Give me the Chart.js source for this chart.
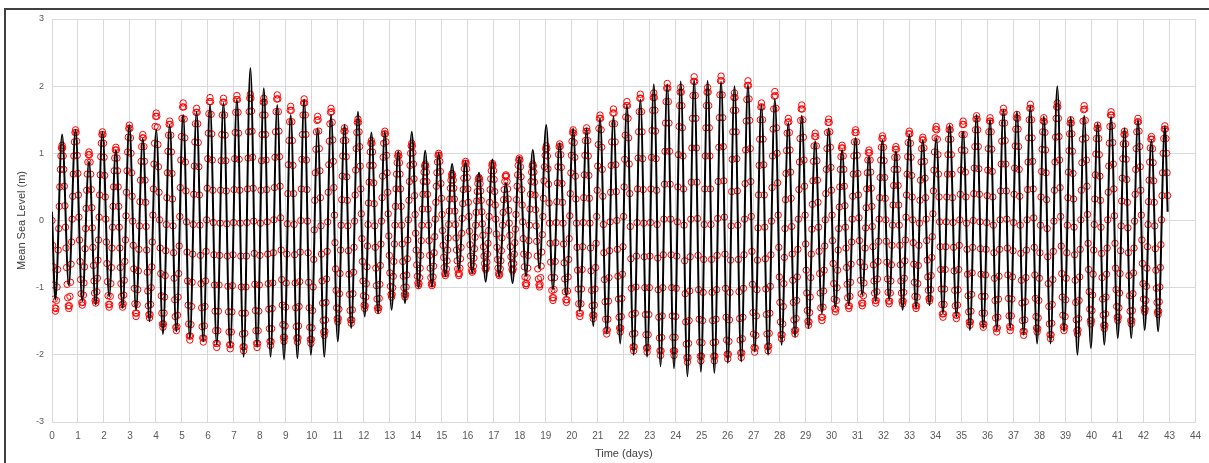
<!DOCTYPE html>
<html>
<head>
<meta charset="utf-8">
<script src="https://cdn.jsdelivr.net/npm/chart.js@4.4.1/dist/chart.umd.min.js"></script>
<style>
  html, body { margin: 0; padding: 0; background: #fff; }
  #wrap { position: relative; width: 1209px; height: 463px; overflow: hidden; }
  #frame { position: absolute; left: 4px; top: 8px; width: 1300px; height: 600px;
           border-top: 2px solid #404040; border-left: 2px solid #404040; }
  #tide-chart { position: absolute; left: 0; top: 0; }
</style>
</head>
<body>
<div id="wrap">
  <div id="frame"></div>
  <canvas id="tide-chart" width="1209" height="463"></canvas>
</div>
<script>
// sample interval of the predicted series, in days (~31 min)
const STEP = 0.0215625;

// predicted level (m), red circles, one value per sample
const predLevel = [
  0.00,-0.37,-0.69,-0.96,-1.17,-1.30,
  -1.35,-1.31,-1.19,-0.99,-0.73,-0.44,-0.12,0.21,0.50,0.76,0.96,1.08,
  1.12,1.08,0.96,0.76,0.51,0.22,-0.10,-0.41,-0.70,-0.95,-1.15,-1.27,
  -1.31,-1.27,-1.13,-0.92,-0.65,-0.32,0.02,0.36,0.69,0.96,1.17,1.31,
  1.35,1.31,1.18,0.97,0.70,0.38,0.05,-0.29,-0.61,-0.88,-1.09,-1.22,
  -1.26,-1.22,-1.11,-0.93,-0.69,-0.42,-0.12,0.18,0.45,0.69,0.87,0.98,
  1.02,0.98,0.87,0.69,0.46,0.19,-0.11,-0.40,-0.67,-0.90,-1.08,-1.19,
  -1.23,-1.19,-1.06,-0.86,-0.59,-0.29,0.05,0.38,0.68,0.95,1.15,1.28,
  1.32,1.28,1.15,0.94,0.67,0.35,0.02,-0.32,-0.64,-0.91,-1.12,-1.25,
  -1.29,-1.25,-1.13,-0.94,-0.70,-0.41,-0.10,0.21,0.50,0.74,0.93,1.05,
  1.09,1.05,0.93,0.74,0.50,0.21,-0.10,-0.41,-0.70,-0.94,-1.13,-1.25,
  -1.29,-1.24,-1.11,-0.89,-0.61,-0.29,0.07,0.42,0.74,1.02,1.24,1.37,
  1.42,1.37,1.23,1.00,0.71,0.36,-0.01,-0.37,-0.72,-1.01,-1.24,-1.38,
  -1.43,-1.38,-1.25,-1.03,-0.75,-0.43,-0.08,0.28,0.60,0.88,1.10,1.23,
  1.28,1.23,1.10,0.88,0.60,0.27,-0.09,-0.44,-0.77,-1.05,-1.27,-1.40,
  -1.45,-1.40,-1.25,-1.00,-0.69,-0.32,0.08,0.47,0.84,1.15,1.40,1.55,
  1.60,1.55,1.39,1.13,0.80,0.42,0.01,-0.41,-0.79,-1.12,-1.38,-1.54,
  -1.59,-1.54,-1.38,-1.14,-0.82,-0.45,-0.06,0.34,0.71,1.03,1.27,1.43,
  1.48,1.43,1.27,1.02,0.70,0.32,-0.08,-0.48,-0.86,-1.18,-1.43,-1.59,
  -1.64,-1.58,-1.41,-1.14,-0.79,-0.38,0.06,0.49,0.90,1.25,1.52,1.69,
  1.75,1.69,1.51,1.23,0.87,0.44,-0.02,-0.47,-0.90,-1.26,-1.54,-1.72,
  -1.78,-1.72,-1.55,-1.28,-0.92,-0.50,-0.06,0.39,0.81,1.17,1.44,1.61,
  1.67,1.61,1.44,1.16,0.80,0.38,-0.07,-0.52,-0.94,-1.30,-1.58,-1.75,
  -1.81,-1.75,-1.57,-1.28,-0.90,-0.46,0.01,0.48,0.92,1.30,1.59,1.77,
  1.83,1.77,1.58,1.29,0.90,0.45,-0.03,-0.51,-0.96,-1.35,-1.64,-1.83,
  -1.89,-1.83,-1.64,-1.35,-0.96,-0.52,-0.04,0.45,0.89,1.28,1.57,1.76,
  1.82,1.76,1.57,1.27,0.89,0.44,-0.05,-0.53,-0.98,-1.36,-1.66,-1.85,
  -1.91,-1.85,-1.66,-1.36,-0.97,-0.51,-0.03,0.46,0.92,1.31,1.61,1.80,
  1.86,1.80,1.61,1.30,0.91,0.45,-0.04,-0.53,-0.99,-1.38,-1.69,-1.88,
  -1.94,-1.88,-1.68,-1.38,-0.99,-0.53,-0.03,0.47,0.93,1.32,1.62,1.82,
  1.88,1.82,1.63,1.33,0.94,0.48,-0.01,-0.49,-0.95,-1.34,-1.64,-1.83,
  -1.89,-1.83,-1.64,-1.35,-0.96,-0.52,-0.04,0.45,0.89,1.28,1.57,1.76,
  1.82,1.76,1.57,1.28,0.90,0.46,-0.02,-0.50,-0.94,-1.32,-1.61,-1.80,
  -1.86,-1.80,-1.61,-1.31,-0.93,-0.48,0.01,0.49,0.94,1.32,1.62,1.81,
  1.87,1.81,1.62,1.33,0.95,0.51,0.04,-0.44,-0.88,-1.26,-1.55,-1.74,
  -1.80,-1.74,-1.57,-1.29,-0.93,-0.50,-0.05,0.40,0.83,1.19,1.47,1.64,
  1.70,1.64,1.47,1.19,0.82,0.40,-0.06,-0.51,-0.93,-1.30,-1.58,-1.75,
  -1.81,-1.75,-1.57,-1.28,-0.91,-0.47,0.00,0.47,0.91,1.28,1.57,1.75,
  1.81,1.75,1.57,1.28,0.90,0.46,-0.01,-0.48,-0.92,-1.30,-1.59,-1.77,
  -1.83,-1.77,-1.60,-1.34,-0.99,-0.58,-0.14,0.30,0.71,1.06,1.32,1.49,
  1.55,1.50,1.33,1.07,0.74,0.34,-0.08,-0.50,-0.90,-1.23,-1.49,-1.66,
  -1.71,-1.65,-1.48,-1.22,-0.87,-0.46,-0.02,0.42,0.83,1.18,1.44,1.61,
  1.67,1.62,1.46,1.20,0.88,0.49,0.08,-0.33,-0.72,-1.04,-1.30,-1.46,
  -1.51,-1.46,-1.32,-1.09,-0.79,-0.44,-0.07,0.31,0.66,0.96,1.19,1.33,
  1.38,1.33,1.19,0.95,0.65,0.30,-0.08,-0.45,-0.80,-1.10,-1.34,-1.48,
  -1.53,-1.48,-1.33,-1.09,-0.77,-0.40,-0.01,0.38,0.75,1.07,1.31,1.46,
  1.51,1.46,1.32,1.10,0.81,0.47,0.10,-0.27,-0.61,-0.90,-1.12,-1.26,
  -1.31,-1.27,-1.14,-0.94,-0.69,-0.38,-0.06,0.26,0.57,0.82,1.02,1.15,
  1.19,1.15,1.02,0.82,0.56,0.25,-0.08,-0.40,-0.71,-0.97,-1.17,-1.30,
  -1.34,-1.30,-1.16,-0.95,-0.67,-0.35,-0.01,0.34,0.66,0.94,1.15,1.29,
  1.33,1.29,1.17,0.97,0.71,0.42,0.10,-0.23,-0.52,-0.78,-0.98,-1.10,
  -1.14,-1.10,-1.00,-0.83,-0.61,-0.35,-0.07,0.21,0.47,0.69,0.86,0.96,
  1.00,0.96,0.86,0.69,0.47,0.21,-0.07,-0.35,-0.61,-0.83,-1.00,-1.10,
  -1.14,-1.10,-0.99,-0.81,-0.57,-0.29,0.01,0.30,0.58,0.82,1.00,1.11,
  1.15,1.11,1.01,0.84,0.62,0.37,0.09,-0.19,-0.44,-0.66,-0.83,-0.93,
  -0.97,-0.94,-0.85,-0.71,-0.52,-0.30,-0.07,0.17,0.39,0.58,0.72,0.81,
  0.84,0.81,0.72,0.58,0.39,0.17,-0.07,-0.30,-0.52,-0.71,-0.85,-0.94,
  -0.97,-0.94,-0.84,-0.68,-0.48,-0.24,0.02,0.27,0.51,0.71,0.87,0.97,
  1.00,0.97,0.88,0.73,0.55,0.33,0.09,-0.15,-0.37,-0.55,-0.70,-0.79,
  -0.82,-0.79,-0.72,-0.60,-0.44,-0.26,-0.06,0.14,0.32,0.48,0.60,0.67,
  0.70,0.67,0.60,0.48,0.32,0.14,-0.06,-0.26,-0.44,-0.60,-0.72,-0.79,
  -0.82,-0.79,-0.71,-0.57,-0.40,-0.19,0.03,0.25,0.46,0.63,0.77,0.85,
  0.88,0.85,0.77,0.64,0.47,0.27,0.06,-0.16,-0.36,-0.53,-0.66,-0.74,
  -0.77,-0.75,-0.68,-0.56,-0.42,-0.25,-0.07,0.12,0.29,0.43,0.55,0.62,
  0.64,0.62,0.55,0.44,0.30,0.13,-0.05,-0.22,-0.39,-0.53,-0.64,-0.71,
  -0.73,-0.70,-0.62,-0.50,-0.34,-0.15,0.06,0.27,0.46,0.62,0.74,0.82,
  0.85,0.82,0.74,0.61,0.43,0.23,0.02,-0.20,-0.40,-0.58,-0.71,-0.79,
  -0.82,-0.80,-0.72,-0.60,-0.45,-0.26,-0.07,0.12,0.31,0.46,0.58,0.66,
  0.68,0.66,0.58,0.47,0.32,0.15,-0.04,-0.22,-0.39,-0.54,-0.65,-0.73,
  -0.75,-0.72,-0.64,-0.50,-0.33,-0.13,0.09,0.31,0.51,0.68,0.82,0.90,
  0.93,0.90,0.80,0.65,0.46,0.23,-0.02,-0.27,-0.50,-0.69,-0.84,-0.94,
  -0.97,-0.94,-0.85,-0.71,-0.52,-0.30,-0.07,0.17,0.39,0.58,0.72,0.81,
  0.84,0.81,0.72,0.57,0.38,0.16,-0.08,-0.31,-0.53,-0.72,-0.87,-0.96,
  -0.99,-0.95,-0.85,-0.68,-0.47,-0.21,0.06,0.33,0.59,0.80,0.97,1.07,
  1.11,1.07,0.96,0.77,0.54,0.26,-0.04,-0.34,-0.62,-0.85,-1.04,-1.15,
  -1.19,-1.15,-1.03,-0.85,-0.61,-0.33,-0.03,0.28,0.56,0.80,0.98,1.10,
  1.14,1.10,0.98,0.79,0.55,0.27,-0.04,-0.35,-0.63,-0.87,-1.06,-1.18,
  -1.22,-1.18,-1.05,-0.84,-0.58,-0.27,0.07,0.40,0.71,0.97,1.18,1.31,
  1.35,1.30,1.16,0.94,0.66,0.32,-0.04,-0.40,-0.74,-1.02,-1.24,-1.38,
  -1.43,-1.38,-1.24,-1.02,-0.73,-0.39,-0.03,0.34,0.68,0.97,1.19,1.33,
  1.38,1.33,1.19,0.96,0.67,0.33,-0.04,-0.41,-0.75,-1.04,-1.27,-1.41,
  -1.46,-1.41,-1.26,-1.02,-0.70,-0.34,0.06,0.45,0.81,1.13,1.37,1.52,
  1.57,1.52,1.35,1.09,0.76,0.36,-0.06,-0.48,-0.88,-1.21,-1.47,-1.64,
  -1.69,-1.63,-1.47,-1.20,-0.85,-0.45,-0.02,0.42,0.82,1.17,1.44,1.60,
  1.66,1.60,1.44,1.17,0.83,0.43,0.00,-0.43,-0.83,-1.17,-1.44,-1.60,
  -1.66,-1.60,-1.43,-1.16,-0.80,-0.39,0.06,0.50,0.91,1.27,1.54,1.71,
  1.77,1.71,1.52,1.23,0.84,0.40,-0.09,-0.57,-1.01,-1.40,-1.69,-1.88,
  -1.94,-1.88,-1.68,-1.38,-0.99,-0.53,-0.03,0.47,0.93,1.32,1.62,1.82,
  1.88,1.82,1.62,1.32,0.92,0.46,-0.04,-0.54,-1.00,-1.40,-1.70,-1.90,
  -1.96,-1.89,-1.70,-1.40,-1.00,-0.53,-0.03,0.47,0.94,1.34,1.64,1.83,
  1.90,1.83,1.64,1.33,0.92,0.45,-0.06,-0.56,-1.03,-1.44,-1.75,-1.94,
  -2.01,-1.94,-1.74,-1.42,-1.00,-0.51,0.02,0.54,1.03,1.45,1.77,1.97,
  2.04,1.97,1.77,1.45,1.03,0.54,0.02,-0.51,-1.00,-1.42,-1.74,-1.94,
  -2.01,-1.94,-1.74,-1.43,-1.01,-0.53,-0.02,0.50,0.98,1.40,1.71,1.91,
  1.98,1.91,1.71,1.38,0.96,0.47,-0.07,-0.60,-1.09,-1.51,-1.84,-2.04,
  -2.11,-2.04,-1.83,-1.49,-1.05,-0.54,0.02,0.57,1.08,1.52,1.86,2.07,
  2.14,2.07,1.86,1.52,1.08,0.57,0.03,-0.52,-1.03,-1.47,-1.81,-2.02,
  -2.09,-2.02,-1.82,-1.49,-1.07,-0.58,-0.06,0.47,0.96,1.38,1.71,1.91,
  1.98,1.91,1.71,1.38,0.96,0.47,-0.06,-0.58,-1.07,-1.49,-1.82,-2.02,
  -2.09,-2.02,-1.81,-1.47,-1.03,-0.52,0.03,0.58,1.09,1.53,1.87,2.08,
  2.15,2.08,1.87,1.53,1.10,0.59,0.05,-0.50,-1.01,-1.44,-1.78,-1.99,
  -2.06,-1.99,-1.80,-1.48,-1.07,-0.59,-0.08,0.43,0.91,1.32,1.64,1.83,
  1.90,1.83,1.64,1.32,0.92,0.44,-0.07,-0.58,-1.06,-1.46,-1.78,-1.97,
  -2.04,-1.97,-1.76,-1.44,-1.01,-0.51,0.02,0.55,1.05,1.48,1.80,2.01,
  2.08,2.01,1.81,1.49,1.07,0.58,0.06,-0.46,-0.95,-1.37,-1.69,-1.89,
  -1.96,-1.90,-1.71,-1.42,-1.03,-0.59,-0.11,0.38,0.82,1.21,1.50,1.69,
  1.75,1.69,1.50,1.21,0.83,0.38,-0.10,-0.57,-1.02,-1.40,-1.69,-1.88,
  -1.94,-1.87,-1.68,-1.38,-0.98,-0.51,-0.01,0.49,0.96,1.36,1.66,1.85,
  1.92,1.86,1.67,1.38,1.00,0.56,0.08,-0.40,-0.84,-1.22,-1.51,-1.70,
  -1.76,-1.70,-1.54,-1.28,-0.94,-0.55,-0.12,0.31,0.70,1.04,1.30,1.46,
  1.52,1.47,1.31,1.05,0.72,0.33,-0.09,-0.50,-0.89,-1.22,-1.48,-1.64,
  -1.69,-1.63,-1.46,-1.19,-0.84,-0.43,0.02,0.46,0.87,1.22,1.49,1.66,
  1.72,1.66,1.50,1.24,0.90,0.51,0.08,-0.35,-0.74,-1.08,-1.34,-1.50,
  -1.56,-1.51,-1.37,-1.14,-0.85,-0.50,-0.13,0.24,0.59,0.88,1.11,1.25,
  1.30,1.25,1.11,0.89,0.60,0.27,-0.10,-0.46,-0.79,-1.08,-1.30,-1.44,
  -1.49,-1.44,-1.29,-1.05,-0.74,-0.38,0.01,0.40,0.76,1.07,1.31,1.46,
  1.51,1.46,1.32,1.09,0.79,0.45,0.08,-0.30,-0.64,-0.94,-1.17,-1.31,
  -1.36,-1.32,-1.19,-1.00,-0.74,-0.44,-0.12,0.20,0.50,0.76,0.95,1.08,
  1.12,1.08,0.96,0.76,0.51,0.22,-0.10,-0.41,-0.70,-0.95,-1.15,-1.27,
  -1.31,-1.27,-1.13,-0.92,-0.65,-0.32,0.02,0.36,0.69,0.96,1.17,1.31,
  1.35,1.31,1.17,0.97,0.70,0.38,0.04,-0.30,-0.62,-0.89,-1.09,-1.23,
  -1.27,-1.23,-1.12,-0.93,-0.69,-0.41,-0.11,0.19,0.47,0.71,0.90,1.01,
  1.05,1.01,0.90,0.72,0.48,0.21,-0.09,-0.39,-0.66,-0.90,-1.08,-1.19,
  -1.23,-1.19,-1.06,-0.87,-0.61,-0.31,0.02,0.34,0.64,0.90,1.09,1.22,
  1.26,1.22,1.09,0.89,0.64,0.33,0.01,-0.31,-0.62,-0.87,-1.07,-1.20,
  -1.24,-1.20,-1.08,-0.90,-0.66,-0.37,-0.07,0.23,0.52,0.76,0.94,1.06,
  1.10,1.06,0.94,0.76,0.52,0.23,-0.07,-0.37,-0.66,-0.90,-1.08,-1.20,
  -1.24,-1.20,-1.07,-0.86,-0.60,-0.29,0.05,0.38,0.69,0.95,1.16,1.29,
  1.33,1.29,1.15,0.94,0.67,0.35,0.01,-0.33,-0.65,-0.92,-1.13,-1.27,
  -1.31,-1.27,-1.14,-0.94,-0.67,-0.37,-0.04,0.30,0.60,0.87,1.07,1.20,
  1.24,1.20,1.08,0.88,0.63,0.34,0.02,-0.30,-0.59,-0.84,-1.04,-1.16,
  -1.20,-1.16,-1.03,-0.82,-0.55,-0.24,0.10,0.44,0.75,1.02,1.23,1.36,
  1.40,1.35,1.21,0.98,0.69,0.35,-0.02,-0.39,-0.73,-1.02,-1.25,-1.39,
  -1.44,-1.39,-1.25,-1.02,-0.73,-0.39,-0.02,0.35,0.69,0.98,1.21,1.35,
  1.40,1.35,1.21,0.98,0.69,0.34,-0.03,-0.40,-0.75,-1.04,-1.27,-1.41,
  -1.46,-1.41,-1.26,-1.03,-0.73,-0.37,0.01,0.39,0.75,1.05,1.28,1.43,
  1.48,1.43,1.28,1.04,0.72,0.35,-0.04,-0.43,-0.80,-1.12,-1.36,-1.51,
  -1.56,-1.51,-1.35,-1.10,-0.78,-0.40,0.00,0.40,0.78,1.10,1.35,1.51,
  1.56,1.51,1.35,1.10,0.77,0.39,-0.02,-0.42,-0.80,-1.13,-1.38,-1.54,
  -1.59,-1.54,-1.38,-1.13,-0.81,-0.43,-0.03,0.37,0.75,1.07,1.32,1.48,
  1.53,1.48,1.32,1.06,0.73,0.35,-0.07,-0.48,-0.86,-1.19,-1.45,-1.61,
  -1.66,-1.60,-1.44,-1.17,-0.83,-0.43,0.01,0.44,0.84,1.18,1.45,1.61,
  1.67,1.61,1.45,1.19,0.84,0.44,0.02,-0.41,-0.81,-1.16,-1.42,-1.58,
  -1.64,-1.59,-1.42,-1.17,-0.84,-0.45,-0.03,0.39,0.78,1.11,1.36,1.53,
  1.58,1.52,1.36,1.10,0.76,0.36,-0.07,-0.49,-0.89,-1.23,-1.49,-1.65,
  -1.71,-1.65,-1.48,-1.21,-0.85,-0.44,0.01,0.46,0.87,1.23,1.50,1.67,
  1.73,1.67,1.50,1.23,0.88,0.47,0.04,-0.40,-0.81,-1.16,-1.43,-1.60,
  -1.66,-1.61,-1.45,-1.19,-0.86,-0.48,-0.07,0.35,0.73,1.06,1.32,1.48,
  1.53,1.47,1.31,1.05,0.71,0.31,-0.12,-0.54,-0.94,-1.28,-1.54,-1.70,
  -1.76,-1.70,-1.53,-1.25,-0.88,-0.46,-0.01,0.45,0.87,1.24,1.52,1.69,
  1.75,1.69,1.52,1.25,0.90,0.49,0.06,-0.38,-0.79,-1.14,-1.41,-1.58,
  -1.64,-1.59,-1.43,-1.18,-0.86,-0.48,-0.07,0.34,0.72,1.04,1.29,1.45,
  1.50,1.45,1.29,1.03,0.70,0.32,-0.10,-0.51,-0.89,-1.22,-1.48,-1.64,
  -1.69,-1.63,-1.46,-1.19,-0.84,-0.43,0.01,0.45,0.86,1.21,1.48,1.65,
  1.71,1.66,1.49,1.23,0.90,0.51,0.09,-0.34,-0.73,-1.06,-1.32,-1.49,
  -1.54,-1.49,-1.34,-1.11,-0.80,-0.44,-0.06,0.32,0.68,0.99,1.22,1.37,
  1.42,1.37,1.22,0.98,0.66,0.30,-0.10,-0.49,-0.85,-1.17,-1.41,-1.56,
  -1.61,-1.56,-1.39,-1.14,-0.80,-0.41,0.01,0.42,0.81,1.15,1.40,1.57,
  1.62,1.57,1.41,1.16,0.84,0.47,0.07,-0.34,-0.71,-1.03,-1.28,-1.44,
  -1.49,-1.44,-1.30,-1.08,-0.79,-0.45,-0.08,0.29,0.63,0.92,1.14,1.28,
  1.33,1.28,1.14,0.91,0.61,0.27,-0.11,-0.48,-0.82,-1.12,-1.35,-1.49,
  -1.54,-1.49,-1.34,-1.09,-0.78,-0.41,-0.01,0.39,0.76,1.07,1.32,1.47,
  1.52,1.47,1.33,1.10,0.80,0.45,0.08,-0.29,-0.64,-0.94,-1.17,-1.31,
  -1.36,-1.32,-1.19,-0.98,-0.71,-0.39,-0.06,0.28,0.60,0.87,1.08,1.21,
  1.25,1.21,1.07,0.86,0.59,0.27,-0.08,-0.42,-0.74,-1.01,-1.22,-1.36,
  -1.40,-1.35,-1.21,-0.99,-0.70,-0.36,0.01,0.37,0.71,1.00,1.22,1.36,
  1.41,1.36,1.22,1.00,0.71,0.37
];

// observed level (m), black line: start, each low/high water, end
const obsLevel = [
  0.13,
  -1.18,1.28,-0.96,1.35,-1.20,0.88,-1.25,1.32,-1.13,1.05,
  -1.30,1.42,-1.33,1.22,-1.50,1.35,-1.69,1.42,-1.65,1.57,
  -1.75,1.62,-1.80,1.72,-1.85,1.75,-1.88,1.80,-2.03,2.27,
  -1.88,1.97,-2.03,1.72,-2.07,1.57,-2.05,1.80,-2.00,1.37,
  -2.03,1.57,-1.80,1.42,-1.60,1.62,-1.43,1.31,-1.38,1.32,
  -1.33,1.03,-1.23,1.32,-1.00,1.04,-0.98,1.00,-0.83,0.84,
  -0.73,0.88,-0.78,0.71,-0.91,0.91,-0.83,0.56,-0.93,0.95,
  -0.83,1.05,-0.71,1.42,-1.03,1.15,-1.13,1.37,-1.35,1.37,
  -1.57,1.52,-1.68,1.55,-1.83,1.72,-2.00,1.80,-2.03,2.03,
  -2.17,2.03,-2.20,2.07,-2.32,2.09,-2.25,2.08,-2.27,2.07,
  -2.12,2.00,-2.10,2.02,-1.95,1.72,-2.00,1.80,-1.85,1.45,
  -1.73,1.56,-1.60,1.18,-1.38,1.37,-1.30,1.05,-1.26,1.23,
  -1.11,0.95,-1.20,1.20,-1.18,1.03,-1.33,1.28,-1.30,1.20,
  -1.26,1.23,-1.38,1.42,-1.43,1.32,-1.63,1.57,-1.60,1.50,
  -1.63,1.65,-1.60,1.62,-1.70,1.70,-1.83,1.55,-1.83,2.00,
  -1.65,1.54,-2.00,1.56,-1.90,1.45,-1.85,1.55,-1.75,1.37,
  -1.75,1.50,-1.63,1.20,-1.65,1.40,
  0.13
];

const xTicks = [0, 44];
const yTicks = [-3, 3];

const predPoints = predLevel.map((v, i) => ({ x: i * STEP, y: v }));
const lastObs = obsLevel.length - 1;
const obsPoints = obsLevel.map((v, j) => {
    let idx;
    if (j === 0) idx = 0;
    else if (j === lastObs) idx = predLevel.length - 1;
    else idx = 6 + 12 * (j - 1);
    return { x: idx * STEP, y: v };
});

const gridColor = '#d9d9d9';
const textColor = '#595959';
const fontFamily = '"Liberation Sans", Arial, sans-serif';

const ctx = document.getElementById('tide-chart').getContext('2d');
new Chart(ctx, {
    type: 'scatter',
    data: {
        datasets: [
            {
                label: 'Observed',
                data: obsPoints,
                showLine: true,
                borderColor: '#000000',
                borderWidth: 2,
                pointRadius: 0,
                cubicInterpolationMode: 'monotone',
                order: 0
            },
            {
                label: 'Predicted',
                data: predPoints,
                showLine: false,
                pointStyle: 'circle',
                pointRadius: 3.2,
                pointBorderWidth: 1,
                pointBorderColor: '#ff0000',
                pointBackgroundColor: 'rgba(0,0,0,0)',
                order: 1
            }
        ]
    },
    options: {
        responsive: false,
        animation: false,
        events: [],
        layout: { padding: { left: 0, right: 13, top: 19, bottom: 0 } },
        plugins: {
            legend: { display: false },
            tooltip: { enabled: false }
        },
        scales: {
            x: {
                type: 'linear',
                min: xTicks[0],
                max: xTicks[1],
                grid: { color: gridColor, lineWidth: 1, drawTicks: false },
                border: { color: gridColor },
                ticks: {
                    stepSize: 1,
                    padding: 8,
                    color: textColor,
                    font: { family: fontFamily, size: 10 }
                },
                title: {
                    display: true,
                    text: 'Time (days)',
                    color: '#404040',
                    padding: { top: 0, bottom: 2 },
                    font: { family: fontFamily, size: 11 }
                },
                afterFit: s => { s.height = 41; }
            },
            y: {
                type: 'linear',
                min: yTicks[0],
                max: yTicks[1],
                grid: { color: gridColor, lineWidth: 1, drawTicks: false },
                border: { color: gridColor },
                ticks: {
                    stepSize: 1,
                    padding: 8,
                    color: textColor,
                    font: { family: fontFamily, size: 9 }
                },
                title: {
                    display: true,
                    text: 'Mean Sea Level (m)',
                    color: '#404040',
                    padding: { top: 15, bottom: 0 },
                    font: { family: fontFamily, size: 11 }
                },
                afterFit: s => { s.width = 52; }
            }
        }
    }
});
</script>
</body>
</html>
